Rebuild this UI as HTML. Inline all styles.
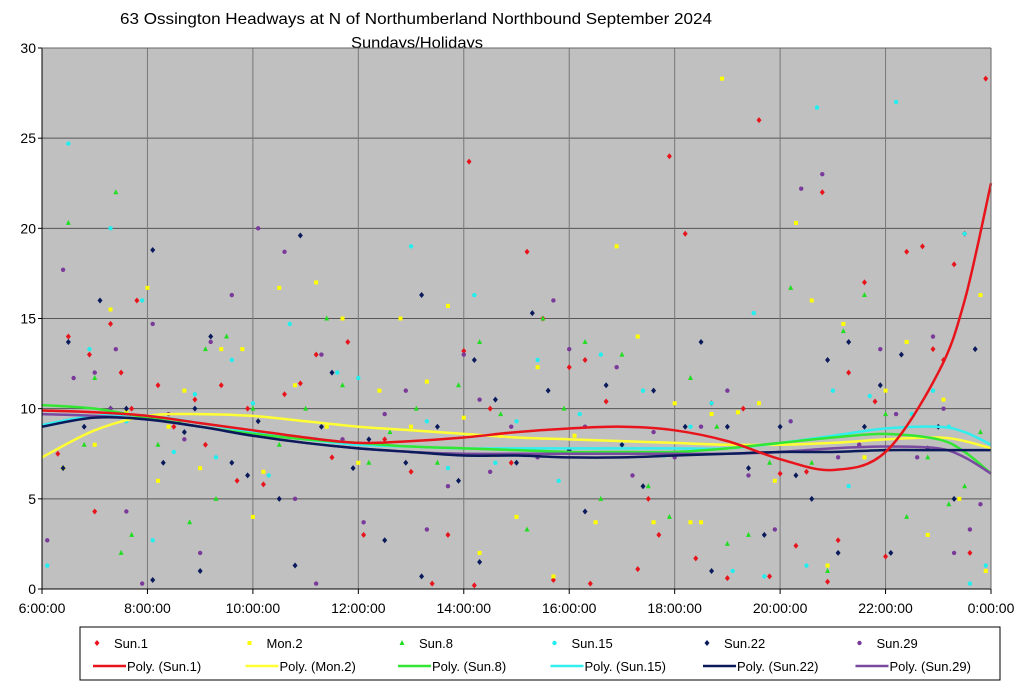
<!DOCTYPE html>
<html><head><meta charset="utf-8"><style>
html,body{margin:0;padding:0;background:#fff;}
svg{display:block;font-family:"Liberation Sans",Arial,sans-serif;}
</style></head><body>
<svg id="chart" width="1024" height="688" viewBox="0 0 1024 688">
<text x="120" y="24" font-size="16" textLength="592" lengthAdjust="spacingAndGlyphs">63 Ossington Headways at N of Northumberland Northbound September 2024</text>
<text x="351" y="48" font-size="16" textLength="132" lengthAdjust="spacingAndGlyphs">Sundays/Holidays</text>
<rect x="42" y="48" width="949" height="541" fill="#c0c0c0"/>
<g id="grid"></g><g id="pts"></g><g id="lines"></g><g id="axes"></g>
<rect x="80" y="627" width="920" height="53" fill="#fff" stroke="#000" stroke-width="1"/>
<g id="legend"></g>
</svg>
<script>
const xTicks=["6:00:00","8:00:00","10:00:00","12:00:00","14:00:00","16:00:00","18:00:00","20:00:00","22:00:00","0:00:00"];
const yTicks=[0,5,10,15,20,25,30];
const seriesNames=["Sun.1","Mon.2","Sun.8","Sun.15","Sun.22","Sun.29"];
const seriesColors=["#e8141c","#ffff00","#22dd22","#22eeee","#0a1a5a","#7a3a9a"];
const lineColors=["#e8141c","#ffff33","#33e633","#33eeee","#0a1a5a","#7a4aa0"];
const sun1=[[0.3,7.5],[0.5,14],[0.9,13],[1.0,4.3],[1.3,14.7],[1.5,12],[1.7,10],[1.8,16],[2.2,11.3],[2.5,9],[2.9,10.5],[3.1,8],[3.4,11.3],[3.7,6],[3.9,10],[4.2,5.8],[4.6,10.8],[4.9,11.4],[5.2,13],[5.5,7.3],[5.8,13.7],[6.1,3],[6.5,8.3],[7.0,6.5],[7.4,0.3],[7.7,3],[8.0,13.2],[8.1,23.7],[8.2,0.2],[8.5,10],[8.9,7],[9.2,18.7],[9.5,15],[9.7,0.5],[10.0,12.3],[10.3,12.7],[10.4,0.3],[10.7,10.4],[11.3,1.1],[11.5,5],[11.7,3],[11.9,24],[12.2,19.7],[12.4,1.7],[12.7,10.3],[13.0,0.6],[13.3,10],[13.6,26],[13.8,0.7],[14.0,6.4],[14.3,2.4],[14.5,6.5],[14.8,22],[14.9,0.4],[15.1,2.7],[15.3,12],[15.6,17],[15.8,10.4],[16.0,1.8],[16.4,18.7],[16.7,19],[16.9,13.3],[17.1,12.7],[17.3,18],[17.5,19.7],[17.6,2],[17.9,28.3]];
const mon2=[[0.4,6.7],[1.0,8],[1.3,15.5],[1.6,9.8],[2.0,16.7],[2.2,6],[2.4,9],[2.7,11],[3.0,6.7],[3.4,13.3],[3.8,13.3],[4.0,4],[4.2,6.5],[4.5,16.7],[4.8,11.3],[5.2,17],[5.4,9],[5.7,15],[6.0,7],[6.4,11],[6.8,15],[7.0,9],[7.3,11.5],[7.7,15.7],[8.0,9.5],[8.3,2],[8.7,8.5],[9.0,4],[9.4,12.3],[9.7,0.7],[10.1,8.5],[10.5,3.7],[10.9,19],[11.3,14],[11.6,3.7],[12.0,10.3],[12.3,3.7],[12.5,3.7],[12.7,9.7],[12.9,28.3],[13.2,9.8],[13.6,10.3],[13.9,6],[14.3,20.3],[14.6,16],[14.9,1.3],[15.2,14.7],[15.6,7.3],[16.0,11],[16.4,13.7],[16.8,3],[17.1,10.5],[17.4,5],[17.8,16.3],[17.9,1]];
const sun8=[[0.5,20.3],[0.8,8],[1.0,11.7],[1.4,22],[1.5,2],[1.7,3],[2.2,8],[2.6,9.3],[2.8,3.7],[3.1,13.3],[3.3,5],[3.5,14],[4.0,10],[4.5,8],[5.0,10],[5.4,15],[5.7,11.3],[6.2,7],[6.6,8.7],[7.1,10],[7.5,7],[7.9,11.3],[8.3,13.7],[8.7,9.7],[9.2,3.3],[9.5,15],[9.9,10],[10.3,13.7],[10.6,5],[11.0,13],[11.5,5.7],[11.9,4],[12.3,11.7],[12.8,9],[13.0,2.5],[13.4,3],[13.8,7],[14.2,16.7],[14.6,7],[14.9,1],[15.2,14.3],[15.6,16.3],[16.0,9.7],[16.4,4],[16.8,7.3],[17.2,4.7],[17.5,5.7],[17.8,8.7]];
const sun15=[[0.1,1.3],[0.5,24.7],[0.9,13.3],[1.3,20],[1.6,9.3],[1.9,16],[2.1,2.7],[2.5,7.6],[2.9,10.8],[3.3,7.3],[3.6,12.7],[4.0,10.3],[4.3,6.3],[4.7,14.7],[5.2,8.3],[5.6,12],[6.0,11.7],[6.5,8],[7.0,19],[7.3,9.3],[7.7,6.7],[8.2,16.3],[8.6,7],[9.0,9.3],[9.4,12.7],[9.8,6],[10.2,9.7],[10.6,13],[11.0,8],[11.4,11],[11.8,7.4],[12.3,9],[12.7,10.3],[13.1,1],[13.5,15.3],[13.7,0.7],[14.2,9.3],[14.5,1.3],[14.7,26.7],[15.0,11],[15.3,5.7],[15.7,10.7],[16.2,27],[16.5,9.7],[16.9,11],[17.2,9],[17.5,19.7],[17.6,0.3],[17.9,1.3]];
const sun22=[[0.4,6.7],[0.5,13.7],[0.8,9],[1.1,16],[1.3,10],[1.6,10],[2.1,0.5],[2.1,18.8],[2.3,7],[2.7,8.7],[2.9,10],[3.0,1],[3.2,14],[3.6,7],[3.9,6.3],[4.1,9.3],[4.5,5],[4.8,1.3],[4.9,19.6],[5.3,9],[5.5,12],[5.9,6.7],[6.2,8.3],[6.5,2.7],[6.9,7],[7.2,16.3],[7.2,0.7],[7.5,9],[7.9,6],[8.2,12.7],[8.3,1.5],[8.6,10.5],[9.0,7],[9.3,15.3],[9.6,11],[10.0,7.7],[10.3,4.3],[10.7,11.3],[11.0,8],[11.4,5.7],[11.6,11],[12.2,9],[12.5,13.7],[12.7,1],[13.0,9],[13.4,6.7],[13.7,3],[14.0,9],[14.3,6.3],[14.6,5],[14.9,12.7],[15.1,2],[15.3,13.7],[15.6,9],[15.9,11.3],[16.1,2],[16.3,13],[16.8,7.8],[17.0,9],[17.3,5],[17.7,13.3]];
const sun29=[[0.1,2.7],[0.4,17.7],[0.6,11.7],[1.0,12],[1.3,10],[1.4,13.3],[1.6,4.3],[1.9,0.3],[2.1,14.7],[2.4,9.7],[2.7,8.3],[3.0,2],[3.2,13.7],[3.6,16.3],[3.9,8.7],[4.1,20],[4.6,18.7],[4.8,5],[5.2,0.3],[5.3,13],[5.7,8.3],[6.1,3.7],[6.5,9.7],[6.9,11],[7.3,3.3],[7.7,5.7],[8.0,13],[8.3,10.5],[8.5,6.5],[8.9,9],[9.4,7.3],[9.7,16],[10.0,13.3],[10.3,9],[10.9,12.3],[11.2,6.3],[11.6,8.7],[12.0,7.3],[12.5,9],[13.0,11],[13.4,6.3],[13.9,3.3],[14.2,9.3],[14.4,22.2],[14.8,23],[15.1,7.3],[15.5,8],[15.9,13.3],[16.2,9.7],[16.6,7.3],[16.9,14],[17.1,10],[17.3,2],[17.6,3.3],[17.8,4.7]];
const trendHours=[0,1,2,3,4,5,6,7,8,9,10,11,12,13,14,15,16,17,17.5,18];
const trendSun1=[9.9,9.8,9.6,9.2,8.8,8.4,8.1,8.2,8.4,8.7,8.9,9.0,8.8,8.2,7.2,6.6,7.6,12,16,22.5];
const trendMon2=[7.3,8.8,9.6,9.7,9.6,9.3,9.0,8.8,8.6,8.4,8.3,8.2,8.1,8.0,8.0,8.1,8.3,8.4,8.2,7.8];
const trendSun8=[10.2,10.0,9.5,9.0,8.6,8.3,8.1,7.9,7.8,7.7,7.6,7.6,7.6,7.8,8.1,8.4,8.6,8.3,7.6,6.4];
const trendSun15=[9.1,9.6,9.6,9.2,8.7,8.3,8.0,7.9,7.8,7.8,7.8,7.8,7.8,7.8,8.1,8.5,8.9,9.0,8.7,8.0];
const trendSun22=[9.0,9.5,9.4,9.0,8.5,8.1,7.8,7.6,7.4,7.4,7.3,7.3,7.4,7.5,7.6,7.6,7.7,7.7,7.7,7.7];
const trendSun29=[9.7,9.6,9.4,9.0,8.5,8.1,7.8,7.6,7.5,7.5,7.5,7.5,7.5,7.5,7.6,7.8,7.9,7.8,7.3,6.4];

const NS="http://www.w3.org/2000/svg";
const X0=42,X1=991,Y0=589,Y1=48;
const xs=h=>X0+(X1-X0)*h/18;
const ys=v=>Y0-(Y0-Y1)*v/30;
function mk(tag,attrs,parent){const e=document.createElementNS(NS,tag);for(const k in attrs)e.setAttribute(k,attrs[k]);parent.appendChild(e);return e;}
const grid=document.getElementById('grid'),axes=document.getElementById('axes'),pts=document.getElementById('pts'),lines=document.getElementById('lines'),leg=document.getElementById('legend');
yTicks.forEach(v=>{if(v>0){const l=mk('line',{x1:X0,x2:X1,y1:ys(v),y2:ys(v),stroke:'#555','stroke-width':1},grid);}
 const t=mk('text',{x:X0-6,y:ys(v)+5,'text-anchor':'end','font-size':14},axes);t.textContent=v;
 mk('line',{x1:X0-4,x2:X0,y1:ys(v),y2:ys(v),stroke:'#000'},axes);});
xTicks.forEach((s,i)=>{const x=xs(i*2);if(i>0&&i<xTicks.length-1){const l=mk('line',{x1:x,x2:x,y1:Y1,y2:Y0,stroke:'#777','stroke-width':1},grid);}
 const t=mk('text',{x:x,y:Y0+24,'text-anchor':'middle','font-size':14},axes);t.textContent=s;
 mk('line',{x1:x,x2:x,y1:Y0,y2:Y0+5,stroke:'#000'},axes);});
mk('line',{x1:X0,x2:X0,y1:Y1,y2:Y0,stroke:'#000'},axes);
mk('line',{x1:X0,x2:X1,y1:Y0,y2:Y0,stroke:'#000'},axes);
mk('line',{x1:X1,x2:X1,y1:Y1,y2:Y0,stroke:'#666'},axes);
mk('line',{x1:X0,x2:X1,y1:Y1,y2:Y1,stroke:'#666'},axes);

function marker(kind,x,y,c,parent){
 if(kind==0||kind==4)return mk('polygon',{points:`${x},${y-3} ${x+2.5},${y} ${x},${y+3} ${x-2.5},${y}`,fill:c},parent);
 if(kind==1)return mk('rect',{x:x-2,y:y-2,width:4,height:4,fill:c},parent);
 if(kind==2)return mk('polygon',{points:`${x},${y-3} ${x+2.5},${y+2} ${x-2.5},${y+2}`,fill:c},parent);
 return mk('circle',{cx:x,cy:y,r:2.2,fill:c},parent);
}
const allPts=[sun1,mon2,sun8,sun15,sun22,sun29];
const allTr=[trendSun1,trendMon2,trendSun8,trendSun15,trendSun22,trendSun29];
allPts.forEach((arr,k)=>{arr.forEach(p=>{const m=marker(k,xs(p[0]),ys(p[1]),seriesColors[k],pts);});});
function smooth(px){let d=`M${px[0][0]},${px[0][1]}`;for(let i=0;i<px.length-1;i++){const p0=px[Math.max(0,i-1)],p1=px[i],p2=px[i+1],p3=px[Math.min(px.length-1,i+2)];
 d+=` C${p1[0]+(p2[0]-p0[0])/6},${p1[1]+(p2[1]-p0[1])/6} ${p2[0]-(p3[0]-p1[0])/6},${p2[1]-(p3[1]-p1[1])/6} ${p2[0]},${p2[1]}`;}return d;}
[1,3,2,5,4,0].forEach(k=>{const px=trendHours.map((h,i)=>[xs(h),ys(allTr[k][i])]);const p=mk('path',{d:smooth(px),fill:'none',stroke:lineColors[k],'stroke-width':2.5},lines);});
seriesNames.forEach((n,k)=>{const x=80+k*152.5;
 const g=mk('g',{},leg);
 marker(k,x+17,643,seriesColors[k],g);
 const t=mk('text',{x:x+34,y:648,'font-size':13},g);t.textContent=n;
 const g2=mk('g',{},leg);
 mk('line',{x1:x+13,x2:x+46,y1:666,y2:666,stroke:lineColors[k],'stroke-width':2.5},g2);
 const t2=mk('text',{x:x+47,y:671,'font-size':13},g2);t2.textContent='Poly. ('+n+')';});
</script>
</body></html>
